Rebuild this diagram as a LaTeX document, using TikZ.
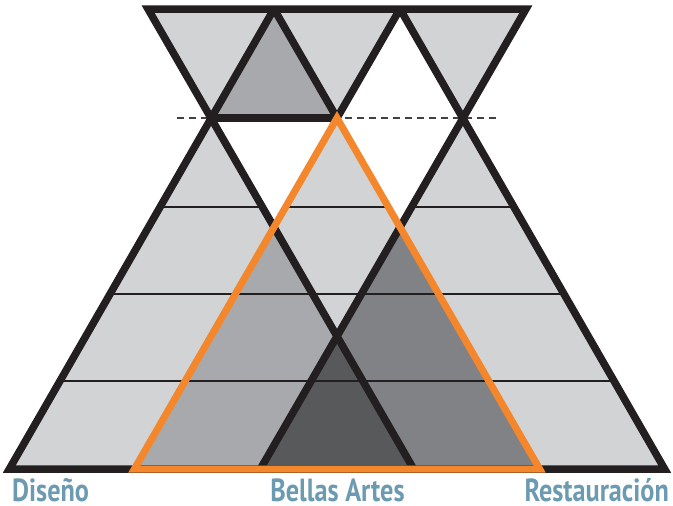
\documentclass[tikz,border=0pt]{standalone}
\usepackage{fontspec}
\newfontfamily\labfont[FakeStretch=0.82]{PT Sans}
\definecolor{lgrey}{HTML}{D1D3D4}
\definecolor{mgrey}{HTML}{A7A9AC}
\definecolor{dgrey}{HTML}{808285}
\definecolor{xgrey}{HTML}{58595B}
\definecolor{blk}{HTML}{231F20}
\definecolor{orng}{HTML}{F4862C}
\definecolor{labblue}{HTML}{6C9BB1}
\tikzset{
  thick line/.style={draw=blk, line width=7.5pt, line join=miter, miter limit=10},
  thin line/.style={draw=blk, line width=2pt},
  dash line/.style={draw=blk!85, line width=2.2pt, dash pattern=on 7pt off 5pt},
  orange line/.style={draw=orng, line width=7pt, line join=miter, miter limit=10},
  lab/.style={font=\labfont\bfseries\fontsize{32}{34}\selectfont, text=labblue, inner sep=0pt, anchor=base}
}
\begin{document}
\begin{tikzpicture}[x=1pt, y=-1pt]
\useasboundingbox (0,0) rectangle (673,506);
% key points
\coordinate (T1) at (148,9);
\coordinate (T2) at (274,9);
\coordinate (T3) at (400,9);
\coordinate (T4) at (526,9);
\coordinate (M1) at (211,118);
\coordinate (M2) at (337,118);
\coordinate (M3) at (463,118);
\coordinate (BL) at (9.35,469);
\coordinate (BL4) at (260.35,469);
\coordinate (BO1) at (134.35,469);
\coordinate (BL2) at (413.65,469);
\coordinate (BO2) at (539.65,469);
\coordinate (BR) at (664.65,469);
\coordinate (A1) at (274,227.1);
\coordinate (A2) at (400,227.1);
\coordinate (A3) at (337,336.2);
% top row fills
\fill[lgrey] (T1) -- (T2) -- (M1) -- cycle;
\fill[mgrey] (T2) -- (M1) -- (M2) -- cycle;
\fill[lgrey] (T2) -- (T3) -- (M2) -- cycle;
\fill[lgrey] (T3) -- (T4) -- (M3) -- cycle;
% lower fills
\fill[lgrey] (M1) -- (M3) -- (BR) -- (BL) -- cycle;
\fill[mgrey] (A1) -- (BO1) -- (BL2) -- cycle;
\fill[dgrey] (A2) -- (BL4) -- (BO2) -- cycle;
\fill[xgrey] (A3) -- (BL4) -- (BL2) -- cycle;
% thin horizontal lines
\draw[thin line] (159.6,207) -- (514.4,207);
\draw[thin line] (109.4,294) -- (564.6,294);
\draw[thin line] (59.2,381) -- (614.8,381);
% white triangles
\fill[white] (M1) -- (M2) -- (A1) -- cycle;
\fill[white] (M2) -- (M3) -- (A2) -- cycle;
% dashed line
\coordinate (D1) at (177,118);
\coordinate (D2) at (499,118);
\draw[dash line] (D1) -- (D2);
% thick black lines
\draw[thick line] (BL2) -- (T1) -- (T4) -- (BL4);
\draw[thick line] (T2) -- (BL) -- (BR) -- (T3);
\draw[thick line] (T2) -- (M2) -- (T3);
\draw[thick line] (M1) -- (M2);
% orange triangle
\draw[orange line] (M2) -- (BO1) -- (BO2) -- cycle;
% labels
\node[lab, anchor=base west] (dis) at (12,501) {Diseño};
\node[lab] (bel) at (337.5,501) {Bellas Artes};
\node[lab, anchor=base east] (res) at (669,501) {Restauración};
\end{tikzpicture}
\end{document}
